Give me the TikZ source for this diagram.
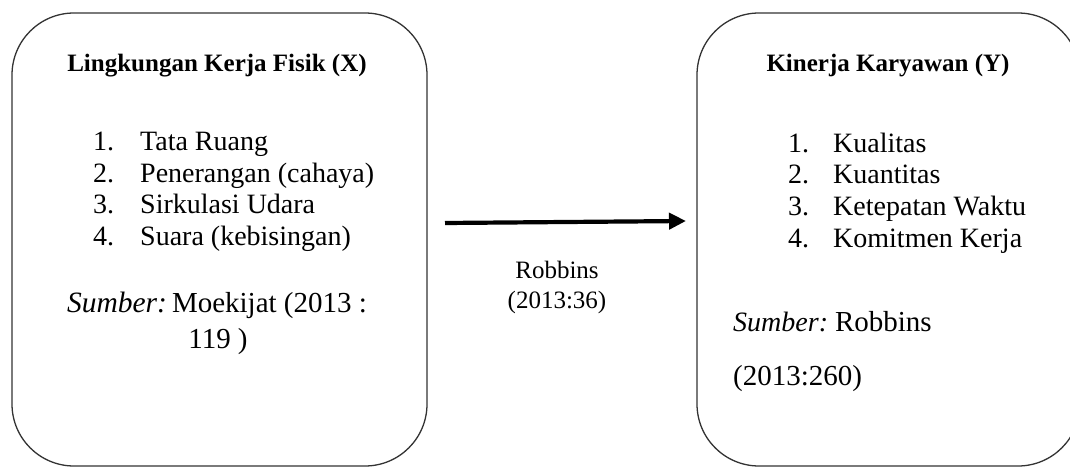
\documentclass[tikz,border=0pt]{standalone}
\usepackage{fontspec}
\setmainfont{Liberation Serif}
\usetikzlibrary{arrows.meta}
\begin{document}
\begin{tikzpicture}[x=1pt,y=-1pt,
  panel/.style={draw=black!80,line width=1.3pt,rounded corners=62pt},
  ttl/.style={anchor=base,inner sep=0pt,font=\fontsize{25}{30}\selectfont\bfseries},
  num/.style={anchor=base west,inner sep=0pt,font=\fontsize{28}{32}\selectfont},
  itm/.style={anchor=base west,inner sep=0pt,font=\fontsize{28}{32}\selectfont},
  src/.style={inner sep=0pt,font=\fontsize{29}{34}\selectfont},
  mid/.style={anchor=base,inner sep=0pt,font=\fontsize{25}{30}\selectfont},
  link/.style={line width=4.2pt,-{Triangle[length=17pt,width=16pt]}}]
\useasboundingbox (0,0) rectangle (1070,468);
% panels
\draw[panel] (12,13) rectangle (427,466);
\draw[panel] (697,13) rectangle (1080,466);
% left content
\node[ttl] (t1) at (217,72) {Lingkungan Kerja Fisik (X)};
\node[num] (n1) at (93,150) {1.};
\node[itm] (a1) at (140,150) {Tata Ruang};
\node[num] (n2) at (93,182) {2.};
\node[itm] (a2) at (140,182) {Penerangan (cahaya)};
\node[num] (n3) at (93,213) {3.};
\node[itm] (a3) at (140,213) {Sirkulasi Udara};
\node[num] (n4) at (93,245) {4.};
\node[itm] (a4) at (140,245) {Suara (kebisingan)};
\node[src,anchor=base] (s1) at (217,312) {\fontsize{29.5}{34}\selectfont\itshape Sumber:\upshape\fontsize{29}{34}\selectfont\hspace{5pt}Moekijat (2013 :};
\node[src,anchor=base] (s2) at (218,348) {119 )};
% right content
\node[ttl] (t2) at (888,72) {Kinerja Karyawan (Y)};
\node[num] (m1) at (788,152) {1.};
\node[itm] (b1) at (833,152) {Kualitas};
\node[num] (m2) at (788,183) {2.};
\node[itm] (b2) at (833,183) {Kuantitas};
\node[num] (m3) at (788,215) {3.};
\node[itm] (b3) at (833,215) {Ketepatan Waktu};
\node[num] (m4) at (788,247) {4.};
\node[itm] (b4) at (833,247) {Komitmen Kerja};
\node[src,anchor=base west] (r1) at (733,331) {\fontsize{28}{32}\selectfont\itshape Sumber:\upshape\fontsize{29}{34}\selectfont\hspace{7pt}Robbins};
\node[src,anchor=base west] (r2) at (733,385) {(2013:260)};
% connector
\coordinate (ast) at (445,223);
\coordinate (aen) at (686,221);
\draw[link] (ast) -- (aen);
\node[mid] (c1) at (557,278) {Robbins};
\node[mid] (c2) at (557,308) {(2013:36)};
\end{tikzpicture}
\end{document}
